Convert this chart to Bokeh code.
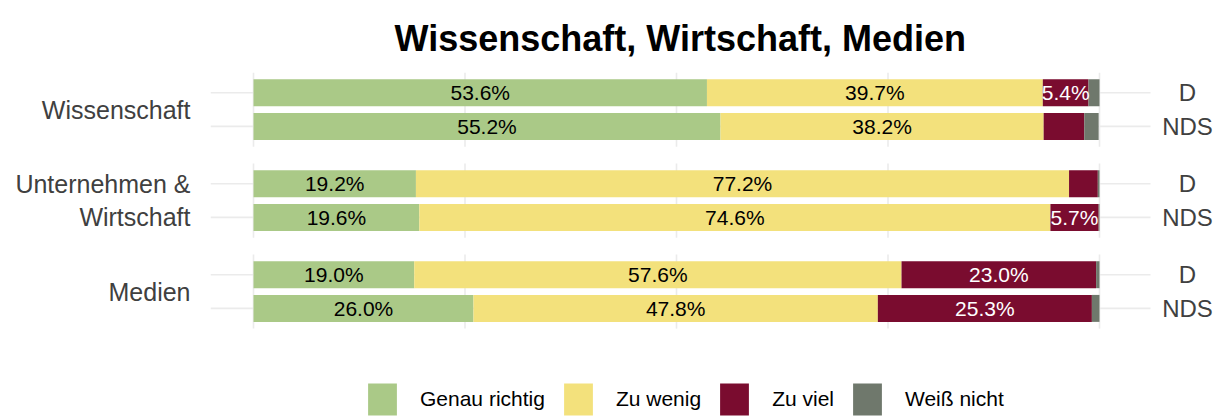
from bokeh.plotting import figure
from bokeh.models import ColumnDataSource, FixedTicker, Legend, LegendItem, Range1d
from bokeh.core.properties import value
from bokeh.embed import file_html
from bokeh.resources import INLINE

# ---------------- data ----------------
chart_title = "Wissenschaft, Wirtschaft, Medien"
groups = ["Wissenschaft", "Unternehmen &\nWirtschaft", "Medien"]
regions = ["D", "NDS"]
categories = ["Genau richtig", "Zu wenig", "Zu viel", "Weiß nicht"]
colors = ["#aac987", "#f3e17c", "#7a0c2f", "#6f786c"]
label_colors = ["#000000", "#000000", "#ffffff", "#ffffff"]
# rows in order: Wissenschaft D, NDS, Unternehmen D, NDS, Medien D, NDS (percent)
genau_richtig = [53.6, 55.2, 19.2, 19.6, 19.0, 26.0]
zu_wenig = [39.7, 38.2, 77.2, 74.6, 57.6, 47.8]
zu_viel = [5.4, 4.8, 3.4, 5.7, 23.0, 25.3]
weiss_nicht = [1.3, 1.7, 0.2, 0.1, 0.4, 0.9]
x_ticks = [0.0, 0.25, 0.5, 0.75, 1.0]
label_min = 5.0

# ---------------- layout constants ----------------
W, H = 1217, 419
FRAME_LEFT, FRAME_TOP = 210, 72
PX_X, PX_Y = 846.0, 33.7
PANEL_H, PANEL_GAP, BAR_H, PAD = 2.2, 0.5, 0.8, 0.6
x_lo = -43.0 / PX_X
x_panel_hi = 1.0603
x_hi = x_lo + (W - FRAME_LEFT) / PX_X
y_bottom = (H - FRAME_TOP) / PX_Y

series = [genau_richtig, zu_wenig, zu_viel, weiss_nicht]

# positions
row_y, row_label, group_centers, panel_tops = [], [], [], []
for g in range(len(groups)):
    top = round(g * (PANEL_H + PANEL_GAP), 4)
    panel_tops.append(top)
    group_centers.append(round(top + PANEL_H / 2, 4))
    for r, reg in enumerate(regions):
        row_y.append(round(top + PAD + r * 1.0, 4))
        row_label.append(reg)

data = {"y": row_y}
for cat, vals in zip(categories, series):
    data[cat] = [v / 100.0 for v in vals]
source = ColumnDataSource(data)

p = figure(width=W, height=H, output_backend="svg", toolbar_location=None,
           x_range=Range1d(x_lo, x_hi), y_range=Range1d(y_bottom, 0),
           min_border_left=FRAME_LEFT, min_border_top=FRAME_TOP,
           min_border_right=0, min_border_bottom=0)
p.outline_line_color = None
p.background_fill_color = "white"
p.xaxis.visible = False
p.xgrid.visible = False
p.ygrid.visible = False

# grid lines (panel-bounded)
gx0, gx1, gy0, gy1 = [], [], [], []
for top in panel_tops:
    for t in x_ticks:
        gx0.append(t); gx1.append(t); gy0.append(top); gy1.append(top + PANEL_H)
for y in row_y:
    gx0.append(x_lo); gx1.append(x_panel_hi); gy0.append(y); gy1.append(y)
p.segment(x0=gx0, y0=gy0, x1=gx1, y1=gy1, line_color="#ebebeb", line_width=1.6)

# stacked bars
renderers = p.hbar_stack(categories, y="y", height=BAR_H, color=colors,
                         line_color=None, source=source)

# segment labels
lx, ly, lt, lc = [], [], [], []
for i, y in enumerate(row_y):
    left = 0.0
    for k, vals in enumerate(series):
        v = vals[i]
        if v >= label_min:
            lx.append(left + v / 200.0)
            ly.append(y)
            lt.append(f"{v:.1f}%")
            lc.append(label_colors[k])
        left += v / 100.0
p.text(x=lx, y=ly, text=lt, text_color=lc, text_align="center",
       text_baseline="middle", text_font=value("Liberation Sans"),
       text_font_size="21px")

# right-side region labels
p.text(x=[1.104] * len(row_y), y=row_y, text=row_label, text_color="#404040",
       text_align="center", text_baseline="middle",
       text_font=value("Liberation Sans"), text_font_size="24px")

# left axis: group labels
ax = p.yaxis[0]
ax.ticker = FixedTicker(ticks=group_centers)
ax.major_label_overrides = {c: g for c, g in zip(group_centers, groups)}
ax.axis_line_color = None
ax.major_tick_line_color = None
ax.minor_tick_line_color = None
ax.major_tick_out = 0
ax.major_label_standoff = 20
ax.major_label_text_font = "Liberation Sans"
ax.major_label_text_font_size = "25px"
ax.major_label_text_color = "#404040"
ax.major_label_text_align = "right"

# title
p.title.text = chart_title
p.title.text_font = "Liberation Sans"
p.title.text_font_style = "bold"
p.title.text_font_size = "36px"
p.title.text_color = "#000000"
p.title.align = "left"
p.title.offset = 184
p.title.standoff = 27

legend = Legend(items=[LegendItem(label=c, renderers=[r]) for c, r in zip(categories, renderers)],
                location=(154, 0), orientation="horizontal",
                glyph_width=36, glyph_height=40, label_standoff=20, spacing=15,
                padding=0, margin=0, border_line_color=None,
                background_fill_alpha=0, label_text_font="Liberation Sans",
                label_text_font_size="21px", label_text_color="#000000")
p.add_layout(legend)

open("out.html", "w").write(file_html(p, INLINE))
